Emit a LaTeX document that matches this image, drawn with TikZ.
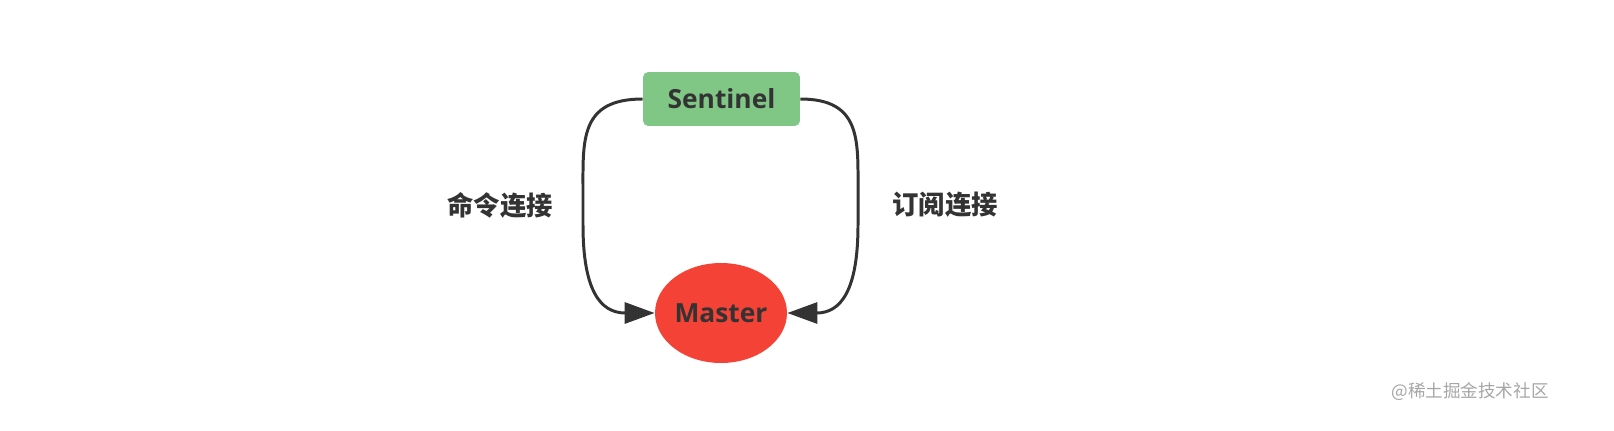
\documentclass[tikz,border=0pt]{standalone}
\usepackage{fontspec}
\setmainfont{Open Sans}
\newfontfamily\cjk{Noto Sans CJK SC}
\usetikzlibrary{arrows.meta,shapes.geometric}
\definecolor{txt}{HTML}{333333}
\definecolor{sgreen}{HTML}{80C786}
\definecolor{mred}{HTML}{F44336}
\begin{document}
\begin{tikzpicture}[x=0.02cm,y=-0.02cm,
  conn/.style={draw=txt,line width=1.7pt,-{Triangle[length=0.6cm,width=0.42cm]}},
  lbl/.style={text=txt,font=\cjk\bfseries\fontsize{15}{17}\selectfont}]
\useasboundingbox (0,0) rectangle (1614,430);
\node[fill=sgreen,rounded corners=3pt,minimum width=3.14cm,minimum height=1.08cm,text=txt,font=\bfseries\fontsize{15}{17}\selectfont] (s) at (721.5,99) {Sentinel};
\node[ellipse,fill=mred,minimum width=2.64cm,minimum height=2cm,inner sep=0pt,text=txt,font=\bfseries\fontsize{15}{17}\selectfont] (m) at (721,313) {Master};
\coordinate (l1) at (583,190);
\coordinate (l2) at (583,225);
\coordinate (r1) at (858,190);
\coordinate (r2) at (858,225);
\draw[conn] (s.west) .. controls (580,99) and (583,140) .. (l1) -- (l2) .. controls (583,290) and (600,313) .. (m.west);
\draw[conn] (s.east) .. controls (861,99) and (858,140) .. (r1) -- (r2) .. controls (858,290) and (841,313) .. (m.east);
\node[lbl] (a) at (500,205) {命令连接};
\node[lbl] (b) at (945,205) {订阅连接};
\node[text=gray!70,font=\cjk\fontsize{10}{12}\selectfont] (w) at (1470,392) {@稀土掘金技术社区};
\end{tikzpicture}
\end{document}
